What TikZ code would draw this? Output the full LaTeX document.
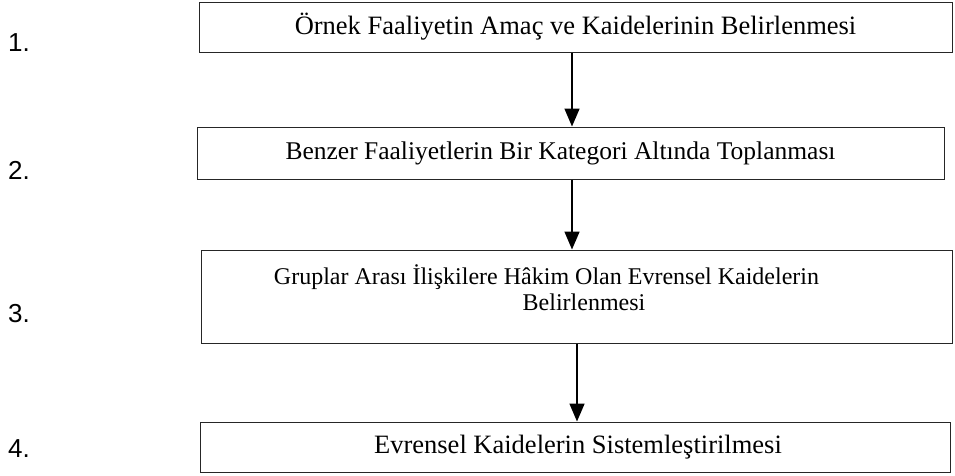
\documentclass[tikz,border=0pt]{standalone}
\usepackage{fontspec}
\setmainfont{Liberation Serif}
\newfontfamily\labelfont{Liberation Sans}
\usetikzlibrary{arrows.meta}
\begin{document}
\begin{tikzpicture}[x=1pt,y=-1pt,
  stepbox/.style={draw=black!85, line width=1pt, rectangle, inner sep=0pt,
    font=\fontsize{26.5}{28}\selectfont},
  numlabel/.style={font=\labelfont\fontsize{26}{28}\selectfont, anchor=base west, inner sep=0pt},
  flow/.style={line width=1.6pt, -{Triangle[width=15pt,length=18pt]}}]
\useasboundingbox (0,0) rectangle (955,475);
\fill[white] (0,0) rectangle (955,475);
\node[stepbox, minimum width=753pt, minimum height=50pt] (b1) at (575.5,27)
  {Örnek Faaliyetin Amaç ve Kaidelerinin Belirlenmesi};
\node[stepbox, minimum width=747pt, minimum height=52pt, font=\fontsize{25.5}{28}\selectfont] (b2) at (570.5,153)
  {Benzer Faaliyetlerin Bir Kategori Altında Toplanması\hspace*{20pt}};
\node[stepbox, minimum width=751pt, minimum height=93pt, align=center, font=\fontsize{24}{26}\selectfont] (b3) at (576.5,296.5)
  {Gruplar Arası İlişkilere Hâkim Olan Evrensel Kaidelerin\hspace*{60pt}\\\hspace*{15pt}Belirlenmesi\\[-8pt]\mbox{}};
\node[stepbox, minimum width=750pt, minimum height=50pt] (b4) at (575,447)
  {\hspace*{6pt}Evrensel Kaidelerin Sistemleştirilmesi};
\node[numlabel] (n1) at (8,51) {1.};
\node[numlabel] (n2) at (8,179) {2.};
\node[numlabel] (n3) at (8,322) {3.};
\node[numlabel] (n4) at (8,457) {4.};
\draw[flow] (b1.south -| 572,0) -- (b2.north -| 572,0);
\draw[flow] (b2.south -| 572,0) -- (b3.north -| 572,0);
\draw[flow] (b3.south -| 577,0) -- (b4.north -| 577,0);
\end{tikzpicture}
\end{document}
